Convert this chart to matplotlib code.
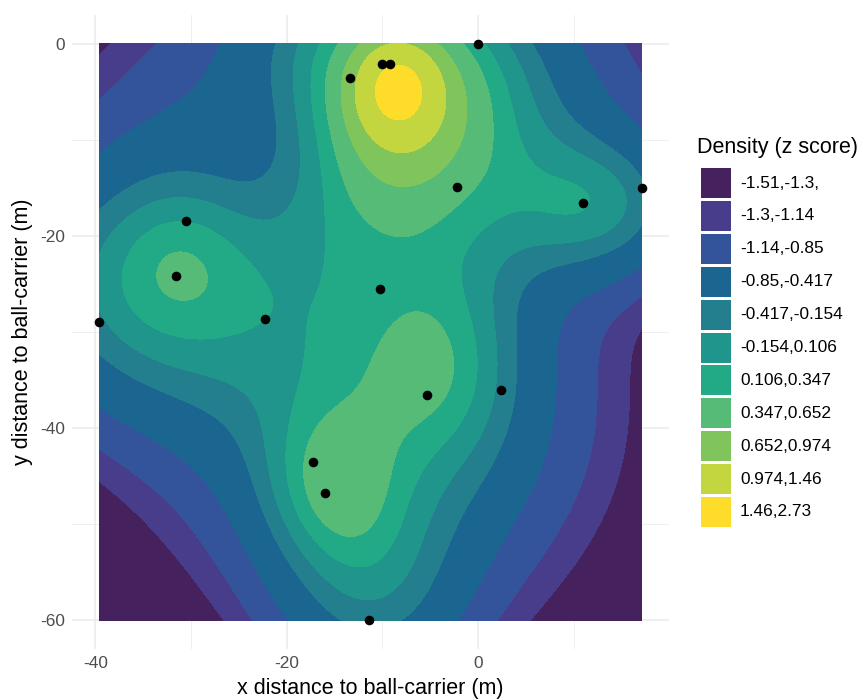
"""Filled density (z score) map of player positions relative to the ball-carrier."""
import numpy as np
import matplotlib
matplotlib.use("Agg")
import matplotlib.pyplot as plt
import matplotlib.patches as mpatches

# Player positions relative to the ball-carrier (m).
x_pos = [0.0, -13.4, -10.1, -9.2, -2.2, 11.0, 17.1, -30.5, -31.6,
         -39.6, -22.3, -10.3, -5.3, 2.4, -17.3, -16.0, -11.4]
y_pos = [0.0, -3.6, -2.1, -2.1, -14.9, -16.6, -15.0, -18.4, -24.2,
         -29.0, -28.6, -25.5, -36.6, -36.0, -43.5, -46.8, -60.0]

# Density surface (z score), read off the chart as a baseline plus
# gaussian hot/cold spots: centre, spread (m) and height in z units.
base_z = -1.65
spot_x = [-8.5, -8.5, -9.0, -10.0, -35.0, -31.0, -15.5, -7.0, -2.0, -11.0, 13.0, -21.0]
spot_y = [-4.5, -6.0, -5.0, -38.0, -25.0, -22.0, -46.0, -34.0, -33.0, -58.0, -17.0, -10.0]
spot_sx = [3.0, 10.0, 18.0, 15.0, 11.0, 4.5, 5.0, 5.0, 5.0, 7.0, 7.0, 6.0]
spot_sy = [3.5, 13.0, 10.0, 15.0, 10.0, 5.0, 6.0, 6.0, 8.0, 8.0, 5.5, 7.0]
spot_z = [0.75, 1.4, 1.15, 1.5, 1.45, 0.25, 0.75, 0.25, 0.4, 0.8, 1.15, -0.6]

# Legend bins (z score of density) and their fill colours.
breaks = [-1.51, -1.3, -1.14, -0.85, -0.417, -0.154, 0.106, 0.347,
          0.652, 0.974, 1.46, 2.73]
bin_labels = ["-1.51,-1.3,", "-1.3,-1.14", "-1.14,-0.85", "-0.85,-0.417",
              "-0.417,-0.154", "-0.154,0.106", "0.106,0.347", "0.347,0.652",
              "0.652,0.974", "0.974,1.46", "1.46,2.73"]
bin_colors = ["#45215e", "#473d8b", "#33549a", "#1a6690", "#237e8d",
              "#1f958b", "#22aa86", "#55bb77", "#80c45c", "#c3d53f",
              "#fddc2a"]

plt.rcParams["font.family"] = ["Liberation Sans", "DejaVu Sans"]
plt.rcParams["axes.unicode_minus"] = False

TICK_GREY = "#4d4d4d"
GRID_GREY = "#ebebeb"

# evaluate the surface over the extent of the points
gx = np.linspace(min(x_pos), max(x_pos), 200)
gy = np.linspace(min(y_pos), max(y_pos), 200)
GX, GY = np.meshgrid(gx, gy)
zs = np.full_like(GX, base_z)
for cx, cy, sx, sy, a in zip(spot_x, spot_y, spot_sx, spot_sy, spot_z):
    zs += a * np.exp(-0.5 * (((GX - cx) / sx) ** 2 + ((GY - cy) / sy) ** 2))
zs = np.clip(zs, breaks[0], breaks[-1])

fig = plt.figure(figsize=(8.61, 6.99), dpi=100)
ax = fig.add_axes([72 / 861, 1 - 649 / 699, (669 - 72) / 861, (649 - 15) / 699])

ax.contourf(gx, gy, zs, levels=breaks, colors=bin_colors, zorder=2,
            antialiased=False)
ax.scatter(x_pos, y_pos, s=48, color="black", zorder=3, linewidths=0)

# ggplot-like 5% expansion around the data range
xr = max(x_pos) - min(x_pos)
yr = max(y_pos) - min(y_pos)
ax.set_xlim(min(x_pos) - 0.05 * xr, max(x_pos) + 0.05 * xr)
ax.set_ylim(min(y_pos) - 0.05 * yr, max(y_pos) + 0.05 * yr)

ax.set_xticks([-40, -20, 0])
ax.set_xticks([-30, -10, 10], minor=True)
ax.set_yticks([-60, -40, -20, 0])
ax.set_yticks([-50, -30, -10], minor=True)
ax.grid(True, which="major", color=GRID_GREY, lw=1.1, zorder=0)
ax.grid(True, which="minor", color=GRID_GREY, lw=0.6, zorder=0)
ax.set_axisbelow(True)
ax.tick_params(which="both", length=0, labelsize=12.4, labelcolor=TICK_GREY,
               pad=5)
for s in ax.spines.values():
    s.set_visible(False)

ax.set_xlabel("x distance to ball-carrier (m)", fontsize=15.5, labelpad=5)
ax.set_ylabel("y distance to ball-carrier (m)", fontsize=15.5, labelpad=5)

# Legend drawn in pixel coordinates on an overlay axes.
lg = fig.add_axes([0, 0, 1, 1])
lg.set_xlim(0, 861)
lg.set_ylim(699, 0)
lg.axis("off")
lg.text(697, 148, "Density (z score)", fontsize=15.5, ha="left", va="center")
key_top, key_step, key_h, key_w = 168, 32.9, 30, 30
for i, (lab, col) in enumerate(zip(bin_labels, bin_colors)):
    y0 = key_top + i * key_step
    lg.add_patch(mpatches.Rectangle((701, y0), key_w, key_h, facecolor=col,
                                    edgecolor="none"))
    lg.text(740, y0 + key_h / 2, lab, fontsize=12.4, ha="left", va="center")

fig.savefig("out.png", dpi=100)
